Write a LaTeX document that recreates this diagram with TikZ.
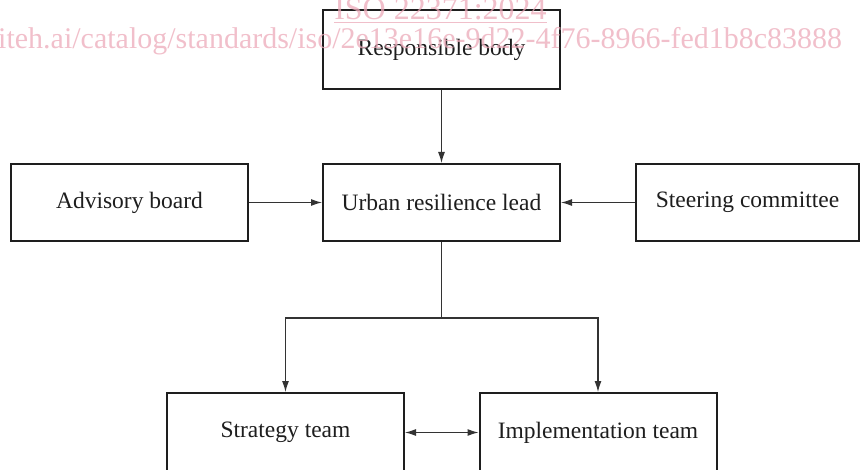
\documentclass[tikz,border=0pt]{standalone}
\usepackage{fontspec}
\setmainfont{Liberation Serif}
\usetikzlibrary{arrows.meta}
\definecolor{ink}{HTML}{1E1E1E}
\definecolor{wire}{HTML}{333333}
\definecolor{wmark}{RGB}{236,170,185}
\tikzset{
  orgbox/.style={draw=ink, line width=2pt, fill=white, rectangle, inner sep=0pt,
    minimum width=237pt, minimum height=77pt, text=ink,
    font=\fontsize{23.5}{27}\selectfont},
  conn/.style={draw=wire, line width=1.2pt, -{Latex[length=11pt,width=7pt]}},
  conn2/.style={draw=wire, line width=1.2pt, {Latex[length=11pt,width=7pt]}-{Latex[length=11pt,width=7pt]}},
  plain/.style={draw=wire, line width=1.2pt},
  wm/.style={text=wmark, opacity=0.75, inner sep=0pt}
}
\begin{document}
\begin{tikzpicture}[x=1pt,y=-1pt]
\useasboundingbox (0,0) rectangle (862,470);
\clip (0,0) rectangle (862,470);
% boxes
\node[orgbox, minimum height=79pt] (resp) at (441.5,49.5) {Responsible body};
\node[orgbox] (lead) at (441.5,202.5) {Urban resilience lead};
\node[orgbox] (adv) at (129.5,202.5) {Advisory board};
\node[orgbox, minimum width=223pt] (steer) at (747.5,202.5) {Steering committee};
\node[orgbox, minimum height=79pt] (strat) at (285.5,432.5) {Strategy team};
\node[orgbox, minimum height=79pt] (impl) at (598,432.5) {Implementation team};
% connectors
\draw[conn] (resp.south) -- (lead.north);
\draw[conn] (adv.east) -- (lead.west);
\draw[conn] (steer.west) -- (lead.east);
\coordinate (split) at (441.5,318);
\coordinate (sl) at (285.5,318);
\coordinate (sr) at (598,318);
\draw[plain] (lead.south) -- (split);
\draw[conn] (split) -- (sl) -- (strat.north);
\draw[conn] (split) -- (sr) -- (impl.north);
\draw[conn2] (strat.east) -- (impl.west);
% watermark
\node[wm, anchor=base, font=\fontsize{32}{32}\selectfont] (wm1) at (440.5,20) {\underline{ISO 22371:2024}};
\node[wm, anchor=base west, font=\fontsize{30}{30}\selectfont] (wm2) at (-2,49) {iteh.ai/catalog/standards/iso/2e13e16e-9d22-4f76-8966-fed1b8c83888};
\end{tikzpicture}
\end{document}
